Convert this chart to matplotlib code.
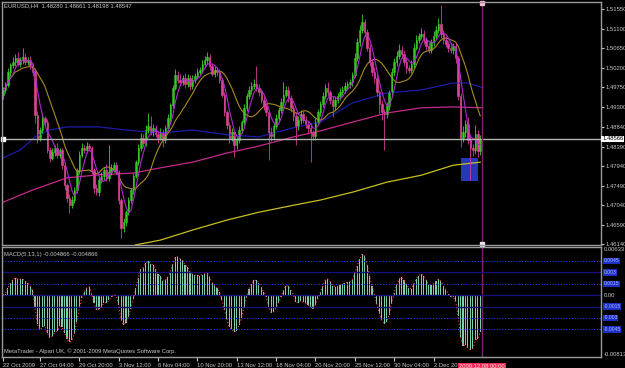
import matplotlib.pyplot as plt
import numpy as np
import pandas as pd

plt.rcParams['font.family'] = ['Liberation Sans', 'DejaVu Sans']

# Datos EURUSD H4: cierres en diezmilesimas (14969 = 1.4969)
cierres = [
    14969, 14980, 15010, 15026, 15033, 15043, 15029, 15038, 15045, 15033,
    15038, 15026, 15010, 14912, 14859, 14877, 14905, 14895, 14831, 14813,
    14826, 14836, 14820, 14831, 14797, 14751, 14721, 14705, 14716, 14739,
    14785, 14820, 14836, 14831, 14840, 14836, 14785, 14744, 14734, 14762,
    14771, 14785, 14767, 14780, 14790, 14797, 14780, 14716, 14652, 14665,
    14688, 14716, 14739, 14771, 14803, 14836, 14859, 14847, 14877, 14886,
    14872, 14882, 14868, 14859, 14872, 14854, 14882, 14905, 14935, 14974,
    15004, 14992, 14987, 14997, 14983, 14997, 14978, 14992, 15001, 15010,
    15015, 15029, 15038, 15045, 15024, 15006, 15015, 15010, 14992, 14958,
    14918, 14889, 14859, 14872, 14843, 14854, 14877, 14895, 14928, 14955,
    14969, 14978, 14983, 14974, 14964, 14946, 14932, 14918, 14872, 14863,
    14886, 14905, 14923, 14941, 14958, 14969, 14951, 14928, 14909, 14886,
    14900, 14914, 14900, 14891, 14882, 14872, 14863, 14895, 14918, 14937,
    14955, 14974, 14964, 14946, 14932, 14946, 14955, 14964, 14969, 14978,
    14983, 14987, 15004, 15043, 15079, 15107, 15125, 15102, 15066, 15033,
    15010, 14997, 14964, 14937, 14918, 14914, 14932, 14964, 15010, 15033,
    15047, 15061, 15052, 15033, 15020, 15015, 15029, 15066, 15084, 15093,
    15098, 15084, 15070, 15061, 15079, 15093, 15107, 15121, 15098, 15084,
    15075, 15066, 15061, 15070, 15043, 14955, 14859, 14872, 14891, 14854,
    14836, 14831, 14868, 14828, 14855,
]
apertura_inicial = 14957

# mechas (pips) por encima / por debajo del cuerpo
mecha_sup = [
    6, 8, 10, 5, 12, 8, 14, 6, 20, 9,
    7, 10, 6, 4, 8, 6, 10, 5, 8, 7,
    9, 6, 12, 5, 4, 6, 5, 8, 10, 6,
    5, 8, 10, 6, 9, 7, 4, 5, 8, 6,
    9, 7, 14, 62, 8, 6, 7, 4, 5, 9,
    6, 8, 5, 7, 6, 9, 10, 8, 12, 30,
    22, 9, 7, 6, 10, 8, 6, 9, 5, 7,
    12, 8, 14, 7, 10, 9, 6, 12, 8, 10,
    7, 9, 10, 12, 6, 8, 9, 7, 6, 5,
    6, 5, 7, 10, 6, 8, 9, 6, 8, 7,
    10, 9, 12, 41, 8, 6, 10, 7, 6, 12,
    8, 9, 7, 10, 30, 8, 9, 6, 7, 10,
    8, 9, 6, 8, 7, 10, 6, 9, 8, 7,
    10, 8, 14, 6, 8, 9, 7, 10, 8, 9,
    7, 8, 6, 10, 9, 12, 18, 8, 6, 9,
    7, 12, 8, 6, 10, 8, 9, 6, 10, 9,
    12, 14, 8, 9, 10, 6, 8, 10, 12, 8,
    14, 9, 7, 10, 8, 12, 10, 14, 44, 8,
    9, 7, 10, 8, 6, 5, 8, 14, 9, 16,
    12, 8, 20, 10, 11,
]
mecha_inf = [
    8, 6, 5, 9, 7, 10, 6, 8, 9, 7,
    6, 8, 9, 18, 12, 8, 6, 9, 7, 10,
    6, 9, 8, 7, 10, 12, 9, 18, 8, 7,
    6, 9, 5, 8, 7, 6, 9, 12, 7, 8,
    6, 10, 8, 7, 6, 9, 5, 8, 23, 10,
    8, 7, 6, 9, 5, 7, 8, 10, 6, 8,
    7, 9, 8, 12, 6, 15, 8, 6, 9, 7,
    5, 8, 10, 6, 9, 7, 10, 6, 8, 7,
    6, 8, 7, 9, 10, 6, 8, 9, 7, 6,
    8, 9, 12, 7, 28, 10, 8, 7, 6, 8,
    7, 9, 6, 8, 10, 7, 9, 8, 64, 12,
    8, 6, 9, 7, 8, 6, 9, 10, 12, 44,
    8, 10, 7, 9, 12, 69, 10, 8, 7, 9,
    8, 7, 9, 10, 26, 8, 7, 9, 6, 8,
    7, 9, 8, 6, 7, 9, 8, 10, 7, 8,
    9, 12, 10, 24, 18, 83, 10, 8, 7, 9,
    8, 7, 10, 9, 12, 8, 7, 9, 6, 8,
    7, 9, 10, 8, 6, 9, 7, 8, 10, 9,
    8, 10, 7, 9, 12, 8, 20, 10, 12, 9,
    74, 14, 10, 12, 8,
]

# medias largas (indice de barra, precio)
azul_idx = [0, 7, 13, 19, 26, 39, 50, 64, 77, 91, 104, 118, 129, 142, 156, 170, 183, 189, 195]
azul_val = [14813, 14831, 14861, 14877, 14884, 14884, 14877, 14870, 14877, 14866,
            14861, 14882, 14895, 14939, 14962, 14969, 14985, 14985, 14974]
rosa_idx = [0, 12, 26, 39, 53, 64, 77, 91, 104, 118, 129, 142, 156, 170, 183, 195]
rosa_val = [14711, 14739, 14767, 14774, 14778, 14790, 14803, 14824, 14840, 14861,
            14875, 14895, 14916, 14928, 14930, 14928]
amarilla_idx = [44, 54, 64, 77, 91, 104, 118, 129, 142, 156, 170, 183, 194]
amarilla_val = [14585, 14613, 14624, 14647, 14670, 14688, 14704, 14716, 14734, 14757,
                14773, 14796, 14803]

precio_actual = 1.48566
linea_vertical = 194.7
rect_barras = [186.2, 193.1]
rect_precios = [1.4760, 1.4813]

precio_ticks = [1.51550, 1.51100, 1.50650, 1.50200, 1.49750, 1.49300, 1.48840,
                1.48390, 1.47940, 1.47490, 1.47040, 1.46590, 1.46140]

niveles = [0.0045, 0.003, 0.0015, 0.0, -0.0015, -0.003, -0.0045]
niveles_txt = ["0.0045", "0.003", "0.0015", "0.00", "-0.0015", "-0.003", "-0.0045"]
niveles_estilo = [":", "-", ":", "-", "-", ":", ":"]

fechas_idx = [0, 15, 31, 47, 63, 79, 95, 111, 127, 143, 159, 175]
fechas = ["22 Oct 2009", "27 Oct 04:00", "29 Oct 20:00", "3 Nov 12:00", "6 Nov 04:00",
          "10 Nov 20:00", "13 Nov 12:00", "18 Nov 04:00", "20 Nov 20:00",
          "25 Nov 12:00", "30 Nov 04:00", "2 Dec 20:00"]

# --- calculos ---
c = np.array(cierres) / 10000
o = np.r_[apertura_inicial / 10000, c[:-1]]
x = np.arange(len(c))
alto_cuerpo = np.maximum(o, c)
bajo_cuerpo = np.minimum(o, c)
h = alto_cuerpo + np.array(mecha_sup) / 10000
l = bajo_cuerpo - np.array(mecha_inf) / 10000
sube = c >= o

serie = pd.Series(c)
ma_rapida = serie.rolling(5, min_periods=1).mean()
ma_media = serie.rolling(13, min_periods=1).mean()
macd = serie.ewm(span=5, adjust=False).mean() - serie.ewm(span=13, adjust=False).mean()

# --- figura ---
W, H = 625, 368
fig = plt.figure(figsize=(W / 100, H / 100), dpi=100, facecolor="black")


def caja(x0, y0, x1, y1):
    return [x0 / W, 1 - y1 / H, (x1 - x0) / W, (y1 - y0) / H]


ax = fig.add_axes(caja(2, 2, 601, 245))
ax2 = fig.add_axes(caja(2, 247, 601, 357))
texto = "#c8c8c8"
marco = "#9a9a9a"

for a in (ax, ax2):
    a.set_facecolor("black")
    a.set_xlim(-0.41, 243.09)
    for s in a.spines.values():
        s.set_color(marco)
        s.set_linewidth(1)

ax.set_ylim(1.46127, 1.51711)

# medias
ax.plot(amarilla_idx, np.array(amarilla_val) / 10000, color="#c8bf1e", lw=0.9)
ax.plot(rosa_idx, np.array(rosa_val) / 10000, color="#c42a8c", lw=0.9)
ax.plot(azul_idx, np.array(azul_val) / 10000, color="#1c1cab", lw=0.9)
ax.plot(x, ma_media, color="#a88a22", lw=0.8)

# velas
ax.vlines(x[sube], l[sube], h[sube], color="#3ad12a", lw=0.6)
ax.vlines(x[~sube], l[~sube], h[~sube], color="#d43aa0", lw=0.6)
alto = np.maximum(alto_cuerpo - bajo_cuerpo, 0.00005)
ax.bar(x[sube], alto[sube], bottom=bajo_cuerpo[sube], width=0.62,
       color="#2f8a1c", edgecolor="#3ad12a", linewidth=0.4)
ax.bar(x[~sube], alto[~sube], bottom=bajo_cuerpo[~sube], width=0.62,
       color="#ff7a86", edgecolor="#e0409a", linewidth=0.4)
ax.plot(x, ma_rapida, color="#b02ad0", lw=0.8)

# objetos: rectangulo, linea de precio, linea vertical
ax.fill_between(rect_barras, rect_precios[0], rect_precios[1], color="#2438b8", lw=0)
ax.axhline(precio_actual, color="#b4b4b4", lw=1)
ax.plot(0, precio_actual, marker="s", ms=2.2, color="white", clip_on=False)
for a in (ax, ax2):
    a.axvline(linea_vertical, color="#7a2470", lw=1)
ax.plot(linea_vertical, 1.5169, marker="s", ms=2.2, color="#ffb8d8", clip_on=False)
ax.plot(linea_vertical, 1.4614, marker="s", ms=2.2, color="#f0e0f0", clip_on=False)

# eje de precios
ax.yaxis.tick_right()
ax.set_yticks(precio_ticks)
ax.set_yticklabels([f"{p:.5f}" for p in precio_ticks])
ax.tick_params(axis="y", length=2, pad=1, labelsize=4.2, colors=texto)
ax.tick_params(axis="x", bottom=False, labelbottom=False)
ax.text(1.002, precio_actual, f"{precio_actual:.5f}", transform=ax.get_yaxis_transform(),
        fontsize=4.2, color="black", va="center", ha="left",
        bbox=dict(facecolor="white", edgecolor="none", pad=0.6))

fig.text(4 / W, 1 - 6 / H, "EURUSD,H4  1.48280 1.48661 1.48198 1.48547",
         fontsize=4.2, color=texto, va="center")

# MACD
ax2.set_ylim(-0.00813, 0.00633)
for nv, est in zip(niveles, niveles_estilo):
    if est == ":":
        ax2.axhline(nv, color="#2a38ff", lw=0.8, ls=(0, (1, 1.5)))
    else:
        ax2.axhline(nv, color="#12127a", lw=1)
ax2.bar(x, macd, width=0.45, color="#7acfa6")
ax2.plot(x, macd, ls=(0, (1, 2)), color="#ff3b62", lw=0.8)

ax2.set_yticks([])
mezcla = ax2.get_yaxis_transform()
for nv, t in zip(niveles, niveles_txt):
    if nv == 0:
        ax2.text(1.004, nv, t, transform=mezcla, fontsize=4.2, color=texto,
                 va="center", ha="left", clip_on=False)
    else:
        ax2.text(1.004, nv, t, transform=mezcla, fontsize=3.6, color="#a8b8ff",
                 va="center", ha="left", clip_on=False,
                 bbox=dict(facecolor="#1f30c8", edgecolor="none", pad=0.5))
ax2.text(1.004, 0.00633, "0.00633", transform=mezcla, fontsize=4.2, color=texto,
         va="top", ha="left")
ax2.text(1.004, -0.00813, "-0.00813", transform=mezcla, fontsize=4.2, color=texto,
         va="bottom", ha="left")
ax2.text(2 / 599, 0.93, "MACD(5,13,1) -0.004866 -0.004866", transform=ax2.transAxes,
         fontsize=4.2, color=texto, va="center")
ax2.text(2 / 599, 0.05, "MetaTrader - Alpari UK, \u00a9 2001-2009 MetaQuotes Software Corp.",
         transform=ax2.transAxes, fontsize=4.2, color=texto, va="center")

# eje de tiempo
ax2.set_xticks(fechas_idx)
ax2.set_xticklabels(fechas, ha="left")
ax2.tick_params(axis="x", length=3, pad=1, labelsize=4.2, colors=texto)
ax2.text(linea_vertical, -0.084, "2009.12.08 00:00", transform=ax2.get_xaxis_transform(),
         fontsize=4.2, color="#ffe0e8", ha="center", va="center", clip_on=False, zorder=5,
         bbox=dict(facecolor="#f02a55", edgecolor="none", pad=0.8))

fig.savefig("out.png", dpi=100, facecolor="black")
